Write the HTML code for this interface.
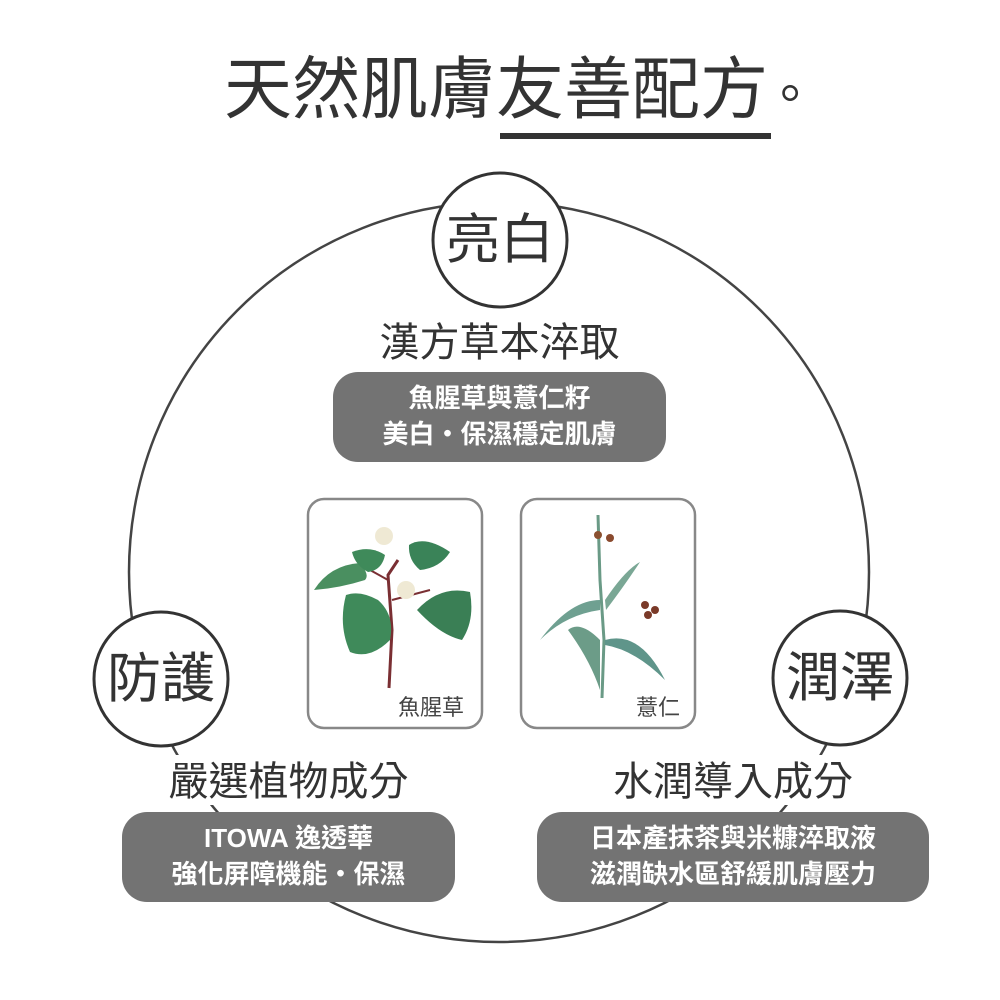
<!DOCTYPE html>
<html><head><meta charset="utf-8"><style>
html,body{margin:0;padding:0;background:#fff;}
body{width:1000px;height:1000px;position:relative;overflow:hidden;font-family:"Liberation Sans","Noto Sans CJK TC",sans-serif;}
.t{position:absolute;white-space:nowrap;}
.b{font-weight:bold;}
</style></head><body>
<svg width="1000" height="1000" style="position:absolute;left:0;top:0" xmlns="http://www.w3.org/2000/svg">
<circle cx="499" cy="572" r="370" fill="none" stroke="#444" stroke-width="2.5"/>
<rect x="360" y="315" width="280" height="55" fill="#fff"/>
<rect x="160" y="755" width="270" height="50" fill="#fff"/>
<rect x="600" y="755" width="270" height="50" fill="#fff"/>
<circle cx="500" cy="240" r="67" fill="#fff" stroke="#333" stroke-width="3"/>
<circle cx="161" cy="679" r="67" fill="#fff" stroke="#333" stroke-width="3"/>
<circle cx="840" cy="678" r="67" fill="#fff" stroke="#333" stroke-width="3"/>
<rect x="333" y="372" width="333" height="90" rx="25" fill="#737373"/>
<rect x="122" y="812" width="333" height="90" rx="25" fill="#737373"/>
<rect x="537" y="812" width="392" height="90" rx="25" fill="#737373"/>
<rect x="308" y="499" width="174" height="229" rx="16" fill="#fff" stroke="#888" stroke-width="2.5"/>
<rect x="521" y="499" width="174" height="229" rx="16" fill="#fff" stroke="#888" stroke-width="2.5"/>
<g>
<path d="M389 688 L392 630 L388 575 L398 560" stroke="#7a2f33" stroke-width="3" fill="none"/>
<path d="M392 600 L430 590" stroke="#7a2f33" stroke-width="2" fill="none"/>
<path d="M388 580 L370 570" stroke="#7a2f33" stroke-width="2" fill="none"/>
<path d="M346 595 Q360 590 378 600 Q395 615 390 640 Q370 660 350 652 Q338 625 346 595Z" fill="#3f8a5a"/>
<path d="M417 610 Q440 585 470 592 Q475 620 462 640 Q440 635 417 610Z" fill="#3a7f55"/>
<path d="M314 590 Q330 565 360 563 Q370 575 365 580 Q340 588 314 590Z" fill="#4a8f60"/>
<path d="M352 552 Q370 545 385 555 Q382 570 368 572 Q355 565 352 552Z" fill="#3f8a5a"/>
<path d="M409 545 Q425 535 450 552 Q440 568 420 570 Q408 560 409 545Z" fill="#3a8358"/>
<circle cx="384" cy="536" r="9" fill="#efe9d4"/>
<circle cx="406" cy="590" r="9" fill="#efe9d4"/>
</g>
<g>
<path d="M602 698 L604 640 L600 580 L598 515" stroke="#6a9a86" stroke-width="3" fill="none"/>
<path d="M600 600 Q570 600 540 640 Q565 615 600 610Z" fill="#6fa091"/>
<path d="M605 640 Q640 630 665 680 Q635 650 605 645Z" fill="#5f958a"/>
<path d="M605 600 Q625 570 640 562 Q625 585 606 610Z" fill="#7aa795"/>
<path d="M600 640 Q580 620 568 630 Q590 660 600 690Z" fill="#6c9c88"/>
<circle cx="598" cy="535" r="4" fill="#8a5030"/>
<circle cx="610" cy="538" r="4" fill="#8a4a2e"/>
<circle cx="645" cy="605" r="4" fill="#7a3a28"/>
<circle cx="655" cy="610" r="4" fill="#7a3a28"/>
<circle cx="648" cy="615" r="4" fill="#7a3a28"/>
</g>
<rect x="500" y="133" width="271" height="6" fill="#333"/>
</svg>
<div class="t" style="left:224px;top:50px;font-size:68px;color:#333;line-height:80px;">天然肌膚友善配方<span style="font-size:52px;margin-left:-4px">。</span></div>
<div class="t" style="left:433px;top:205px;width:134px;text-align:center;font-size:54px;color:#333;line-height:70px;">亮白</div>
<div class="t" style="left:94px;top:644px;width:134px;text-align:center;font-size:54px;color:#333;line-height:70px;">防護</div>
<div class="t" style="left:773px;top:643px;width:134px;text-align:center;font-size:54px;color:#333;line-height:70px;">潤澤</div>
<div class="t" style="left:333px;top:318px;width:333px;text-align:center;font-size:40px;color:#333;line-height:50px;">漢方草本淬取</div>
<div class="t" style="left:122px;top:757px;width:333px;text-align:center;font-size:40px;color:#333;line-height:50px;">嚴選植物成分</div>
<div class="t" style="left:537px;top:757px;width:392px;text-align:center;font-size:40px;color:#333;line-height:50px;">水潤導入成分</div>
<div class="t b" style="left:333px;top:380px;width:333px;text-align:center;font-size:26px;color:#fff;line-height:36px;">魚腥草與薏仁籽<br>美白‧保濕穩定肌膚</div>
<div class="t b" style="left:122px;top:820px;width:333px;text-align:center;font-size:26px;color:#fff;line-height:36px;">ITOWA 逸透華<br>強化屏障機能・保濕</div>
<div class="t b" style="left:537px;top:820px;width:392px;text-align:center;font-size:26px;color:#fff;line-height:36px;">日本產抹茶與米糠淬取液<br>滋潤缺水區舒緩肌膚壓力</div>
<div class="t" style="left:398px;top:694px;font-size:22px;color:#444;line-height:28px;">魚腥草</div>
<div class="t" style="left:636px;top:694px;font-size:22px;color:#444;line-height:28px;">薏仁</div>
</body></html>
